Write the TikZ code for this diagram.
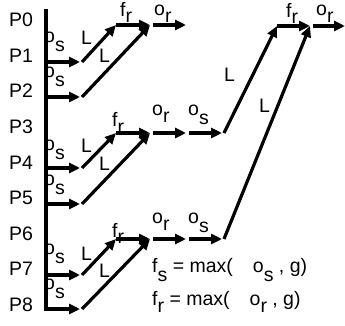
\documentclass[tikz,border=0pt]{standalone}
\usepackage{fontspec}
\setmainfont{Liberation Sans}
\usetikzlibrary{arrows.meta}
\newcommand{\lo}[2][9pt]{\raisebox{-#1}{#2}}
\begin{document}
\begin{tikzpicture}[x=1pt,y=-1pt,
  ln/.style={line width=3.2pt, line cap=butt, line join=miter},
  arr/.style={ln, -{Triangle[length=11pt,width=10pt]}},
  lab/.style={inner sep=0pt, anchor=base west, font=\fontsize{19.5}{19.5}\selectfont}]
\useasboundingbox (0,0) rectangle (345,326);
% row labels
\foreach \i/\y in {0/26.7,1/62.3,2/97.9,3/133.5,4/169.1,5/204.7,6/240.3,7/275.9,8/311.5}
  \node[lab] (p\i) at (9,\y) {P\i};
% subscript labels (drawn first so the bus line covers them)
\node[lab] (os1) at (44,43) {o\lo{s}};
\node[lab] (os2) at (44,78) {o\lo{s}};
\node[lab] (os4) at (44,150) {o\lo{s}};
\node[lab] (os5) at (44,185) {o\lo{s}};
\node[lab] (os7) at (44,254) {o\lo{s}};
\node[lab] (os8) at (44,289) {o\lo{s}};
% junction coordinates
\coordinate (top) at (46,9);
\coordinate (corner) at (46,309);
\foreach \g/\a/\b/\c in {1/25/62/97, 2/133/168/204, 3/239/275/309}{
  \coordinate (h\g a) at (46,\b);
  \coordinate (e\g a) at (80,\b);
  \coordinate (d\g a) at (82,\b);
  \coordinate (e\g b) at (80,\c);
  \coordinate (d\g b) at (82,\c);
  \coordinate (f\g) at (116,\a);
  \coordinate (g\g) at (150,\a);
  \coordinate (r\g) at (153,\a);
  \coordinate (s\g) at (186,\a);
}
\coordinate (h1b) at (46,97);
\coordinate (h2b) at (46,204);
\coordinate (t2) at (189,133);
\coordinate (u2) at (222,133);
\coordinate (v2) at (224,133);
\coordinate (t3) at (189,239);
\coordinate (u3) at (222,239);
\coordinate (v3) at (224,239);
\coordinate (F) at (277,26);
\coordinate (G) at (310,26);
\coordinate (R) at (313,26);
\coordinate (S) at (345,26);
% bus
\draw[arr] (top) -- (corner) -- (e3b);
\foreach \g in {1,2,3}{
  \draw[arr] (h\g a) -- (e\g a);
  \draw[arr] (d\g a) -- (f\g);
  \draw[arr] (d\g b) -- (g\g);
  \draw[arr] (f\g) -- (g\g);
  \draw[arr] (r\g) -- (s\g);
}
\draw[arr] (h1b) -- (e1b);
\draw[arr] (h2b) -- (e2b);
\draw[arr] (t2) -- (u2);
\draw[arr] (t3) -- (u3);
\draw[arr] (v2) -- (F);
\draw[arr] (v3) -- (G);
\draw[arr] (F) -- (G);
\draw[arr] (R) -- (S);
% labels
\node[lab] (L1a) at (81,45) {L};
\node[lab] (L1b) at (99,63) {L};
\node[lab] (L2a) at (81,152) {L};
\node[lab] (L2b) at (99,170) {L};
\node[lab] (L3a) at (81,260) {L};
\node[lab] (L3b) at (99,277) {L};
\node[lab] (fr1) at (120,17) {f\lo[6pt]{r}};
\node[lab] (or1) at (154,15.5) {o\lo[7pt]{r}};
\node[lab] (fr2) at (112,127) {f\lo[6pt]{r}};
\node[lab] (or2) at (152,116) {o\lo[7pt]{r}};
\node[lab] (os2h) at (188,116) {o\lo{s}};
\node[lab] (fr3) at (112,237) {f\lo[6pt]{r}};
\node[lab] (or3) at (152,223) {o\lo[7pt]{r}};
\node[lab] (os3h) at (188,223) {o\lo{s}};
\node[lab] (LA) at (224,82) {L};
\node[lab] (LB) at (259,113) {L};
\node[lab] (frT) at (286,18) {f\lo[6pt]{r}};
\node[lab] (orT) at (316,16) {o\lo[7pt]{r}};
\node[lab] (eq1) at (152,272) {f\lo{s} = max(\hspace{20pt}o\lo{s} , g)};
\node[lab] (eq2) at (152,305) {f\lo[7pt]{r} = max(\hspace{20pt}o\lo[7pt]{r} , g)};
\end{tikzpicture}
\end{document}
